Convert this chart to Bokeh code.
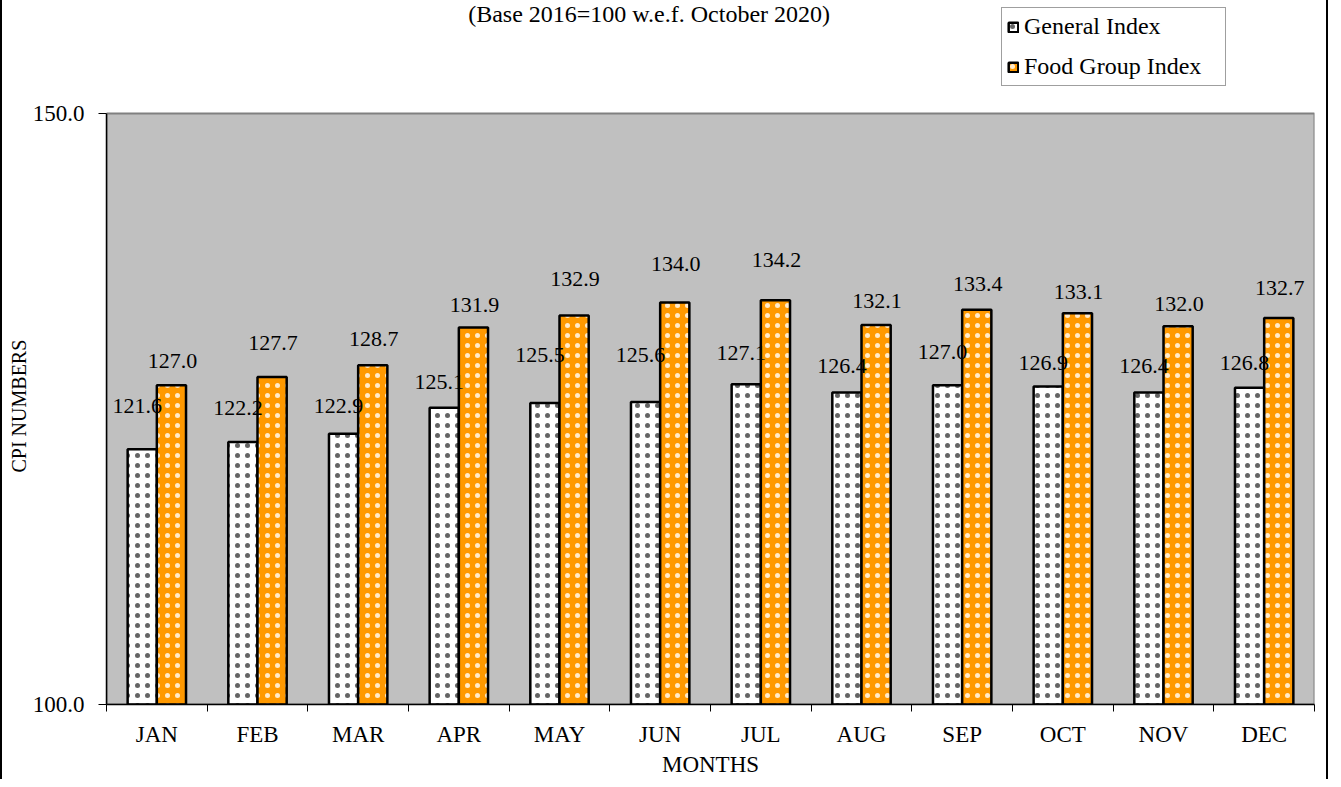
from bokeh.plotting import figure
from bokeh.models import (Range1d, FixedTicker, ColumnDataSource, Legend, LegendItem,
                          Label, Title, NumeralTickFormatter)
from bokeh.core.properties import value
from bokeh.embed import file_html
from bokeh.resources import INLINE

months = ["JAN", "FEB", "MAR", "APR", "MAY", "JUN", "JUL", "AUG", "SEP", "OCT", "NOV", "DEC"]
general_index = [121.6, 122.2, 122.9, 125.1, 125.5, 125.6, 127.1, 126.4, 127.0, 126.9, 126.4, 126.8]
food_index = [127.0, 127.7, 128.7, 131.9, 132.9, 134.0, 134.2, 132.1, 133.4, 133.1, 132.0, 132.7]
y_ticks = [100, 150]
y_min, y_max = 100, 150

# label offsets above bar tops (pixels), as placed in the original
gen_label_lift = [43, 34, 28, 26, 48, 47, 31, 26, 33, 24, 26, 25]
food_label_lift = [24, 34, 26, 22, 37, 39, 40, 24, 26, 21, 22, 30]

FONT = "Liberation Serif"
BAR_W = 0.29

n = len(months)
centers = [i + 0.5 for i in range(n)]
gen_x = [c - BAR_W / 2 for c in centers]
food_x = [c + BAR_W / 2 for c in centers]

src = ColumnDataSource(dict(
    gx=gen_x, fx=food_x, g=general_index, f=food_index,
    gl=[f"{v:.1f}" for v in general_index], fl=[f"{v:.1f}" for v in food_index],
    gdy=[-d for d in gen_label_lift], fdy=[-d for d in food_label_lift],
))

# frame spans the full height so the legend/subtitle above the plot area stay inside it
FRAME_H = 704
AREA_TOP = 113
px_per_unit = (FRAME_H - AREA_TOP) / (y_max - y_min)
y_top = y_max + AREA_TOP / px_per_unit

p = figure(width=1328, height=779, output_backend="svg", toolbar_location=None,
           x_range=Range1d(0, n), y_range=Range1d(y_min, y_top),
           min_border_left=104, min_border_right=16, min_border_top=0, min_border_bottom=75)
p.styles = {"border-left": "2px solid black", "border-right": "2px solid black"}

p.background_fill_color = "white"
p.border_fill_color = "white"
p.outline_line_color = None
p.xgrid.visible = False
p.ygrid.visible = False

# plot area
p.quad(left=0, right=n, bottom=y_min, top=y_max, fill_color="#C0C0C0",
       line_color="#808080", line_width=2)

r_gen = p.vbar(x="gx", top="g", bottom=y_min, width=BAR_W, source=src,
               fill_color="white", line_color="black", line_width=2.5,
               hatch_pattern="dot", hatch_color="#222222", hatch_alpha=0.7,
               hatch_scale=10, hatch_weight=0.3)
r_food = p.vbar(x="fx", top="f", bottom=y_min, width=BAR_W, source=src,
                fill_color="#FF9900", line_color="black", line_width=2.5,
                hatch_pattern="dot", hatch_color="white", hatch_alpha=0.8,
                hatch_scale=10, hatch_weight=0.3)

p.text(x="gx", y="g", text="gl", source=src, x_offset=-5, y_offset="gdy",
       text_font=value(FONT), text_font_size="22px", text_color="black",
       text_align="center", text_baseline="middle")
p.text(x="fx", y="f", text="fl", source=src, x_offset=1, y_offset="fdy",
       text_font=value(FONT), text_font_size="22px", text_color="black",
       text_align="center", text_baseline="middle")

# x axis
xa = p.xaxis[0]
xa.ticker = FixedTicker(ticks=centers, minor_ticks=list(range(n + 1)))
xa.major_label_overrides = {c: m for c, m in zip(centers, months)}
xa.major_tick_line_color = None
xa.minor_tick_line_color = "black"
xa.minor_tick_in = 0
xa.minor_tick_out = 7
xa.axis_line_color = "black"
xa.axis_line_width = 1.5
xa.major_label_text_font = FONT
xa.major_label_text_font_size = "23px"
xa.major_label_text_color = "black"
xa.major_label_standoff = 10
xa.axis_label = "MONTHS"
xa.axis_label_text_font = FONT
xa.axis_label_text_font_size = "23px"
xa.axis_label_text_font_style = "normal"
xa.axis_label_text_color = "black"
xa.axis_label_standoff = 2

# y axis
ya = p.yaxis[0]
ya.ticker = FixedTicker(ticks=y_ticks)
ya.bounds = (y_min, y_max)
ya.formatter = NumeralTickFormatter(format="0.0")
ya.major_tick_in = 0
ya.major_tick_out = 8
ya.minor_tick_line_color = None
ya.axis_line_color = "black"
ya.axis_line_width = 1.5
ya.major_tick_line_color = "black"
ya.major_label_text_font = FONT
ya.major_label_text_font_size = "23px"
ya.major_label_text_color = "black"
ya.major_label_standoff = 14

# y-axis title, centred on the plot area (not the full frame)
p.add_layout(Title(text="CPI NUMBERS", align="left", offset=FRAME_H - 472, standoff=0,
                   text_font=FONT, text_font_size="20px", text_font_style="normal",
                   text_color="black"), "left")

# subtitle (placed above the plot area)
p.add_layout(Label(x=5.39, y=y_max + (AREA_TOP - 13) / px_per_unit,
                   text="(Base 2016=100 w.e.f. October 2020)", text_font=FONT,
                   text_font_size="24px", text_color="black",
                   text_align="center", text_baseline="middle"))

legend = Legend(items=[LegendItem(label="General Index", renderers=[r_gen]),
                       LegendItem(label="Food Group Index", renderers=[r_food])],
                location=(895, 618), orientation="vertical",
                label_text_font=FONT, label_text_font_size="24px", label_text_color="black",
                glyph_width=12, glyph_height=12, label_height=20, label_width=196,
                spacing=13, padding=5, margin=0, label_standoff=5,
                border_line_color="#404040", border_line_width=1.5,
                background_fill_color="white", background_fill_alpha=1)
p.add_layout(legend, "center")

open("out.html", "w").write(file_html(p, INLINE))
